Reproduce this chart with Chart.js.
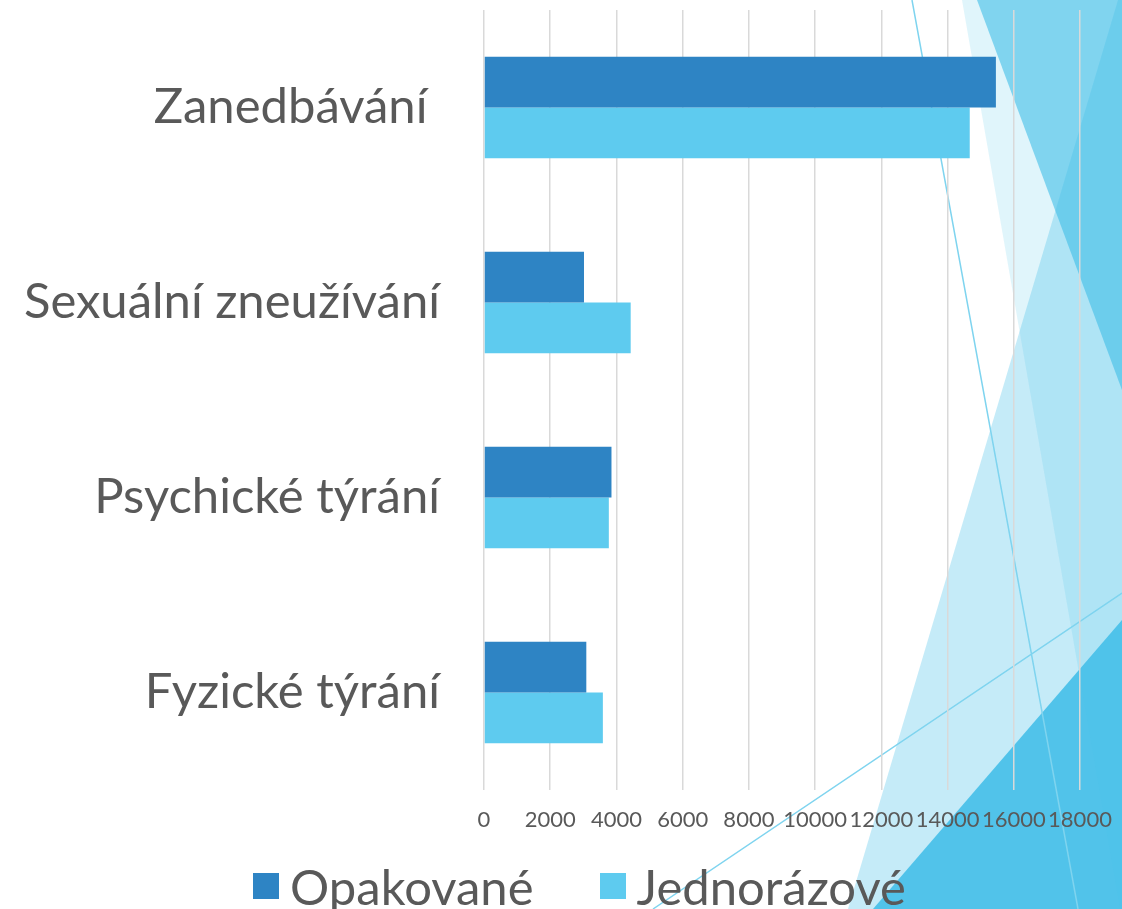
<!DOCTYPE html>
<html>
<head>
<meta charset="utf-8">
<script src="https://cdn.jsdelivr.net/npm/chart.js@4"></script>
<style>
  html, body { margin: 0; padding: 0; background: #fff; }
  #wrap { position: relative; width: 1122px; height: 909px; }
  #legend {
    position: absolute; left: 37px; right: 0; top: 857px; height: 58px;
    display: flex; justify-content: center; align-items: center; gap: 66px;
    font-family: Lato, sans-serif; font-size: 49px; color: #595959;
  }
  #legend .item { display: flex; align-items: center; }
  #legend .box { width: 26px; height: 26px; margin-right: 11px; }
</style>
</head>
<body>
<div id="wrap">
  <canvas id="chart" width="1122" height="909"></canvas>
  <div id="legend"></div>
</div>
<script>
const categories = ['Zanedbávání ', 'Sexuální zneužívání', 'Psychické týrání', 'Fyzické týrání'];
const seriesNames = ['Opakované', 'Jednorázové'];
const opakovane = [15460, 3020, 3850, 3090];
const jednorazove = [14670, 4430, 3770, 3590];
const seriesColors = ['#2E84C4', '#5ECBEF'];
const xTicks = [0, 2000, 4000, 6000, 8000, 10000, 12000, 14000, 16000, 18000];

// theme decoration behind the chart (slide background shapes)
const backdrop = {
  id: 'backdrop',
  beforeDraw(chart) {
    const ctx = chart.ctx;
    const shapes = [
      { pts: [[962, 0], [1122, 0], [1122, 909], [1120, 909]], fill: 'rgba(64,190,232,0.16)' },
      { pts: [[977, 0], [1122, 0], [1122, 390]], fill: 'rgba(64,190,232,0.6)' },
      { pts: [[1118, 0], [1122, 0], [1122, 909], [848, 909]], fill: 'rgba(64,190,232,0.30)' },
      { pts: [[873, 909], [1122, 620], [1122, 909]], fill: 'rgba(64,190,232,0.87)' }
    ];
    ctx.save();
    shapes.forEach(s => {
      ctx.beginPath();
      s.pts.forEach((p, i) => i ? ctx.lineTo(p[0], p[1]) : ctx.moveTo(p[0], p[1]));
      ctx.closePath();
      ctx.fillStyle = s.fill;
      ctx.fill();
    });
    ctx.strokeStyle = '#7FD4EF';
    ctx.lineWidth = 1.5;
    ctx.beginPath();
    ctx.moveTo(912, 0); ctx.lineTo(1078, 909);
    ctx.moveTo(653, 909); ctx.lineTo(1122, 593);
    ctx.stroke();
    ctx.restore();
  }
};

function noEdgePadding(scale) {
  scale.paddingTop = 0;
  scale.paddingBottom = 0;
  scale.paddingLeft = 0;
  scale.paddingRight = 0;
}

const chart = new Chart(document.getElementById('chart'), {
  type: 'bar',
  data: {
    labels: categories,
    datasets: [
      { label: seriesNames[0], data: opakovane, backgroundColor: seriesColors[0] },
      { label: seriesNames[1], data: jednorazove, backgroundColor: seriesColors[1] }
    ]
  },
  options: {
    indexAxis: 'y',
    responsive: false,
    animation: false,
    categoryPercentage: 0.52,
    barPercentage: 1,
    layout: { padding: { top: 10, right: 42, bottom: 0, left: 0 } },
    plugins: {
      legend: { display: false },
      tooltip: { enabled: false }
    },
    scales: {
      x: {
        min: 0,
        max: 18000,
        afterBuildTicks: (scale) => { scale.ticks = xTicks.map(v => ({ value: v })); },
        grid: { color: '#D9D9D9', lineWidth: 1.5, drawTicks: false },
        border: { display: false },
        ticks: {
          padding: 17,
          color: '#595959',
          font: { family: 'Lato', size: 22 },
          maxRotation: 0,
          autoSkip: false,
          callback: (value) => String(value)
        },
        afterFit: (scale) => { scale.height = 119; noEdgePadding(scale); }
      },
      y: {
        grid: { display: false, drawTicks: false },
        border: { display: false },
        ticks: {
          padding: 44,
          color: '#595959',
          font: { family: 'Lato', size: 49 }
        },
        afterFit: (scale) => { scale.width = 484; noEdgePadding(scale); }
      }
    }
  },
  plugins: [backdrop]
});

const legendEl = document.getElementById('legend');
chart.data.datasets.forEach(ds => {
  const item = document.createElement('div');
  item.className = 'item';
  const box = document.createElement('span');
  box.className = 'box';
  box.style.background = ds.backgroundColor;
  const txt = document.createElement('span');
  txt.textContent = ds.label;
  item.appendChild(box);
  item.appendChild(txt);
  legendEl.appendChild(item);
});
</script>
</body>
</html>
